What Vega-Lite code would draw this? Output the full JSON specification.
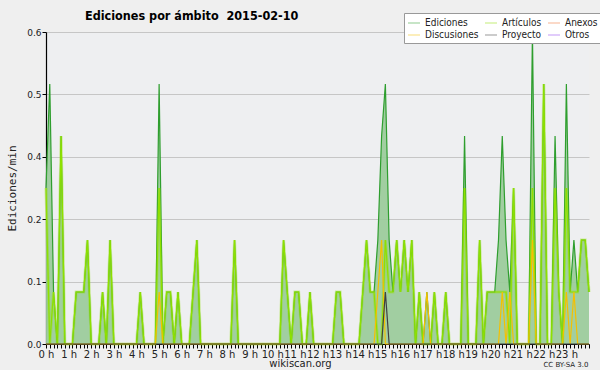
{
  "$schema": "https://vega.github.io/schema/vega-lite/v6.json",
  "width": 543,
  "height": 312,
  "autosize": "none",
  "padding": {"left": 46, "top": 32, "right": 11, "bottom": 26},
  "background": "#efefef",
  "config": {
    "view": {"stroke": null, "fill": "#eeeff1"},
    "axis": {"labelFont": "DejaVu Sans", "titleFont": "DejaVu Sans", "labelColor": "#222", "titleColor": "#222", "domainColor": "#000", "tickColor": "#000"}
  },
  "title": {
    "text": "Ediciones por ámbito \u00a02015-02-10",
    "anchor": "start",
    "frame": "group",
    "dx": 39,
    "offset": -20,
    "baseline": "alphabetic",
    "font": "DejaVu Sans Condensed, Liberation Sans Narrow, DejaVu Sans",
    "fontSize": 12.5,
    "fontWeight": "bold",
    "color": "#000"
  },
  "data": {"values": [
    {"m":0,"E":0.3,"A":0.3,"D":0,"P":0},
    {"m":10,"E":0.5,"A":0,"D":0,"P":0},
    {"m":20,"E":0.1,"A":0.1,"D":0,"P":0},
    {"m":30,"E":0,"A":0,"D":0,"P":0},
    {"m":40,"E":0.4,"A":0.4,"D":0,"P":0},
    {"m":50,"E":0,"A":0,"D":0,"P":0},
    {"m":60,"E":0,"A":0,"D":0,"P":0},
    {"m":70,"E":0,"A":0,"D":0,"P":0},
    {"m":80,"E":0.1,"A":0.1,"D":0,"P":0},
    {"m":90,"E":0.1,"A":0.1,"D":0,"P":0},
    {"m":100,"E":0.1,"A":0.1,"D":0,"P":0},
    {"m":110,"E":0.2,"A":0.2,"D":0,"P":0},
    {"m":120,"E":0,"A":0,"D":0,"P":0},
    {"m":130,"E":0,"A":0,"D":0,"P":0},
    {"m":140,"E":0,"A":0,"D":0,"P":0},
    {"m":150,"E":0.1,"A":0.1,"D":0,"P":0},
    {"m":160,"E":0,"A":0,"D":0,"P":0},
    {"m":170,"E":0.2,"A":0.2,"D":0,"P":0},
    {"m":180,"E":0,"A":0,"D":0,"P":0},
    {"m":190,"E":0,"A":0,"D":0,"P":0},
    {"m":200,"E":0,"A":0,"D":0,"P":0},
    {"m":210,"E":0,"A":0,"D":0,"P":0},
    {"m":220,"E":0,"A":0,"D":0,"P":0},
    {"m":230,"E":0,"A":0,"D":0,"P":0},
    {"m":240,"E":0,"A":0,"D":0,"P":0},
    {"m":250,"E":0.1,"A":0.1,"D":0,"P":0},
    {"m":260,"E":0,"A":0,"D":0,"P":0},
    {"m":270,"E":0,"A":0,"D":0,"P":0},
    {"m":280,"E":0,"A":0,"D":0,"P":0},
    {"m":290,"E":0,"A":0,"D":0,"P":0},
    {"m":300,"E":0.5,"A":0.3,"D":0.1,"P":0},
    {"m":310,"E":0,"A":0,"D":0,"P":0},
    {"m":320,"E":0.1,"A":0.1,"D":0,"P":0},
    {"m":330,"E":0.1,"A":0.1,"D":0,"P":0},
    {"m":340,"E":0,"A":0,"D":0,"P":0},
    {"m":350,"E":0.1,"A":0.1,"D":0,"P":0},
    {"m":360,"E":0,"A":0,"D":0,"P":0},
    {"m":370,"E":0,"A":0,"D":0,"P":0},
    {"m":380,"E":0,"A":0,"D":0,"P":0},
    {"m":390,"E":0.1,"A":0.1,"D":0,"P":0},
    {"m":400,"E":0.2,"A":0.2,"D":0,"P":0},
    {"m":410,"E":0,"A":0,"D":0,"P":0},
    {"m":420,"E":0,"A":0,"D":0,"P":0},
    {"m":430,"E":0,"A":0,"D":0,"P":0},
    {"m":440,"E":0,"A":0,"D":0,"P":0},
    {"m":450,"E":0,"A":0,"D":0,"P":0},
    {"m":460,"E":0,"A":0,"D":0,"P":0},
    {"m":470,"E":0,"A":0,"D":0,"P":0},
    {"m":480,"E":0,"A":0,"D":0,"P":0},
    {"m":490,"E":0,"A":0,"D":0,"P":0},
    {"m":500,"E":0.2,"A":0.2,"D":0,"P":0},
    {"m":510,"E":0,"A":0,"D":0,"P":0},
    {"m":520,"E":0,"A":0,"D":0,"P":0},
    {"m":530,"E":0,"A":0,"D":0,"P":0},
    {"m":540,"E":0,"A":0,"D":0,"P":0},
    {"m":550,"E":0,"A":0,"D":0,"P":0},
    {"m":560,"E":0,"A":0,"D":0,"P":0},
    {"m":570,"E":0,"A":0,"D":0,"P":0},
    {"m":580,"E":0,"A":0,"D":0,"P":0},
    {"m":590,"E":0,"A":0,"D":0,"P":0},
    {"m":600,"E":0,"A":0,"D":0,"P":0},
    {"m":610,"E":0,"A":0,"D":0,"P":0},
    {"m":620,"E":0,"A":0,"D":0,"P":0},
    {"m":630,"E":0.2,"A":0.2,"D":0,"P":0},
    {"m":640,"E":0.1,"A":0.1,"D":0,"P":0},
    {"m":650,"E":0,"A":0,"D":0,"P":0},
    {"m":660,"E":0.1,"A":0.1,"D":0,"P":0},
    {"m":670,"E":0.1,"A":0.1,"D":0,"P":0},
    {"m":680,"E":0,"A":0,"D":0,"P":0},
    {"m":690,"E":0,"A":0,"D":0,"P":0},
    {"m":700,"E":0.1,"A":0.1,"D":0,"P":0},
    {"m":710,"E":0,"A":0,"D":0,"P":0},
    {"m":720,"E":0,"A":0,"D":0,"P":0},
    {"m":730,"E":0,"A":0,"D":0,"P":0},
    {"m":740,"E":0,"A":0,"D":0,"P":0},
    {"m":750,"E":0,"A":0,"D":0,"P":0},
    {"m":760,"E":0,"A":0,"D":0,"P":0},
    {"m":770,"E":0.1,"A":0.1,"D":0,"P":0},
    {"m":780,"E":0.1,"A":0.1,"D":0,"P":0},
    {"m":790,"E":0,"A":0,"D":0,"P":0},
    {"m":800,"E":0,"A":0,"D":0,"P":0},
    {"m":810,"E":0,"A":0,"D":0,"P":0},
    {"m":820,"E":0,"A":0,"D":0,"P":0},
    {"m":830,"E":0,"A":0,"D":0,"P":0},
    {"m":840,"E":0.1,"A":0.1,"D":0,"P":0},
    {"m":850,"E":0.2,"A":0.2,"D":0,"P":0},
    {"m":860,"E":0.1,"A":0.1,"D":0,"P":0},
    {"m":870,"E":0.1,"A":0.1,"D":0,"P":0},
    {"m":880,"E":0.2,"A":0,"D":0.1,"P":0},
    {"m":890,"E":0.4,"A":0,"D":0.2,"P":0},
    {"m":900,"E":0.5,"A":0.2,"D":0,"P":0.1},
    {"m":910,"E":0.2,"A":0.1,"D":0,"P":0},
    {"m":920,"E":0.1,"A":0.1,"D":0,"P":0},
    {"m":930,"E":0.2,"A":0.2,"D":0,"P":0},
    {"m":940,"E":0.1,"A":0.1,"D":0,"P":0},
    {"m":950,"E":0.2,"A":0.2,"D":0,"P":0},
    {"m":960,"E":0.1,"A":0.1,"D":0,"P":0},
    {"m":970,"E":0.2,"A":0.2,"D":0,"P":0},
    {"m":980,"E":0,"A":0,"D":0,"P":0},
    {"m":990,"E":0.1,"A":0.1,"D":0,"P":0},
    {"m":1000,"E":0,"A":0,"D":0,"P":0},
    {"m":1010,"E":0.1,"A":0,"D":0.1,"P":0},
    {"m":1020,"E":0,"A":0,"D":0,"P":0},
    {"m":1030,"E":0.1,"A":0.1,"D":0,"P":0},
    {"m":1040,"E":0,"A":0,"D":0,"P":0},
    {"m":1050,"E":0,"A":0,"D":0,"P":0},
    {"m":1060,"E":0.1,"A":0.1,"D":0,"P":0},
    {"m":1070,"E":0,"A":0,"D":0,"P":0},
    {"m":1080,"E":0,"A":0,"D":0,"P":0},
    {"m":1090,"E":0,"A":0,"D":0,"P":0},
    {"m":1100,"E":0,"A":0,"D":0,"P":0},
    {"m":1110,"E":0.4,"A":0.3,"D":0,"P":0},
    {"m":1120,"E":0,"A":0,"D":0,"P":0},
    {"m":1130,"E":0,"A":0,"D":0,"P":0},
    {"m":1140,"E":0,"A":0,"D":0,"P":0},
    {"m":1150,"E":0.2,"A":0.2,"D":0,"P":0},
    {"m":1160,"E":0,"A":0,"D":0,"P":0},
    {"m":1170,"E":0.1,"A":0.1,"D":0,"P":0},
    {"m":1180,"E":0.1,"A":0.1,"D":0,"P":0},
    {"m":1190,"E":0.1,"A":0.1,"D":0,"P":0},
    {"m":1200,"E":0.2,"A":0.1,"D":0,"P":0},
    {"m":1210,"E":0.4,"A":0.1,"D":0.1,"P":0},
    {"m":1220,"E":0.2,"A":0.1,"D":0,"P":0},
    {"m":1230,"E":0.1,"A":0,"D":0.1,"P":0},
    {"m":1240,"E":0.3,"A":0.3,"D":0,"P":0},
    {"m":1250,"E":0,"A":0,"D":0,"P":0},
    {"m":1260,"E":0,"A":0,"D":0,"P":0},
    {"m":1270,"E":0,"A":0,"D":0,"P":0},
    {"m":1280,"E":0,"A":0,"D":0,"P":0},
    {"m":1290,"E":0.6,"A":0.3,"D":0.2,"P":0},
    {"m":1300,"E":0,"A":0,"D":0,"P":0},
    {"m":1310,"E":0,"A":0,"D":0,"P":0},
    {"m":1320,"E":0.5,"A":0.5,"D":0,"P":0},
    {"m":1330,"E":0,"A":0,"D":0,"P":0},
    {"m":1340,"E":0,"A":0,"D":0,"P":0},
    {"m":1350,"E":0.4,"A":0.3,"D":0,"P":0},
    {"m":1360,"E":0.1,"A":0.1,"D":0,"P":0},
    {"m":1370,"E":0,"A":0,"D":0,"P":0},
    {"m":1380,"E":0.5,"A":0.3,"D":0.1,"P":0},
    {"m":1390,"E":0.1,"A":0.1,"D":0,"P":0},
    {"m":1400,"E":0.2,"A":0.1,"D":0.1,"P":0},
    {"m":1410,"E":0.1,"A":0.1,"D":0,"P":0},
    {"m":1420,"E":0.2,"A":0.2,"D":0,"P":0},
    {"m":1430,"E":0.2,"A":0.2,"D":0,"P":0},
    {"m":1440,"E":0.1,"A":0.1,"D":0,"P":0}
  ]},
  "resolve": {"axis": {"x": "independent"}},
  "layer": [
    {
      "mark": {"type": "area", "fill": "#9ccb9c", "opacity": 0.95},
      "encoding": {
        "x": {"field": "m", "type": "quantitative", "scale": {"domain": [0, 1440], "nice": false, "zero": false},
          "axis": {
            "orient": "bottom",
            "values": [0,10,20,30,40,50,60,70,80,90,100,110,120,130,140,150,160,170,180,190,200,210,220,230,240,250,260,270,280,290,300,310,320,330,340,350,360,370,380,390,400,410,420,430,440,450,460,470,480,490,500,510,520,530,540,550,560,570,580,590,600,610,620,630,640,650,660,670,680,690,700,710,720,730,740,750,760,770,780,790,800,810,820,830,840,850,860,870,880,890,900,910,920,930,940,950,960,970,980,990,1000,1010,1020,1030,1040,1050,1060,1070,1080,1090,1100,1110,1120,1130,1140,1150,1160,1170,1180,1190,1200,1210,1220,1230,1240,1250,1260,1270,1280,1290,1300,1310,1320,1330,1340,1350,1360,1370,1380,1390,1400,1410,1420,1430,1440],
            "labelExpr": "datum.value % 60 === 0 && datum.value < 1440 ? (datum.value / 60) + ' h' : ''",
            "labelOverlap": false,
            "labelFlush": false,
            "labelFontSize": 10,
            "labelPadding": 1,
            "tickSize": 4,
            "tickWidth": 1,
            "domainWidth": 1.2,
            "grid": false,
            "title": "wikiscan.org",
            "titleFontSize": 10,
            "titleFontWeight": "normal",
            "titleX": 254,
            "titleY": 22.5,
            "titleBaseline": "alphabetic"
          }
        },
        "y": {"field": "E", "type": "quantitative", "scale": {"domain": [0, 0.6], "nice": false, "zero": true},
          "axis": {
            "values": [0,0.03,0.06,0.09,0.12,0.15,0.18,0.21,0.24,0.27,0.3,0.33,0.36,0.39,0.42,0.45,0.48,0.51,0.54,0.57,0.6],
            "labelExpr": "indexof([0,0.12,0.24,0.36,0.48,0.6], datum.value) >= 0 ? format(datum.value, '.1f') : ''",
            "labelOverlap": false,
            "labelFontSize": 9,
            "labelPadding": 1,
            "tickSize": 4,
            "domainWidth": 1.2,
            "grid": true,
            "gridColor": "#c6c6c6",
            "gridOpacity": {"condition": {"test": "indexof([0.12,0.24,0.36,0.48,0.6], datum.value) >= 0", "value": 1}, "value": 0},
            "title": "Ediciones/min",
            "titleFont": "DejaVu Sans Mono",
            "titleFontSize": 11,
            "titleFontWeight": "normal",
            "titleX": -31,
            "titleY": 156,
            "titleBaseline": "alphabetic"
          }
        }
      }
    },
    {
      "mark": {"type": "line", "strokeWidth": 1.2},
      "encoding": {
        "x": {"field": "m", "type": "quantitative", "axis": {
          "orient": "bottom", "title": "CC BY-SA 3.0", "labels": false, "ticks": false, "domain": false, "grid": false,
          "titleFontSize": 7, "titleFontWeight": "normal", "titleX": 542, "titleY": 22.5, "titleAlign": "right", "titleBaseline": "alphabetic"
        }},
        "y": {"field": "E", "type": "quantitative"},
        "color": {"datum": "Ediciones", "type": "nominal",
          "scale": {"domain": ["Ediciones", "Artículos", "Anexos", "Discusiones", "Proyecto", "Otros"],
                    "range": ["#2e9e2e", "#8ee000", "#f07030", "#f5c000", "#404040", "#9040f0"]},
          "legend": {
            "orient": "none", "legendX": 358, "legendY": -19, "direction": "horizontal", "columns": 3,
            "title": null, "symbolType": "stroke", "symbolSize": 144, "symbolStrokeWidth": 1.5, "symbolOpacity": 0.6,
            "labelFont": "DejaVu Sans Condensed, Liberation Sans Narrow, DejaVu Sans", "labelFontSize": 10, "labelColor": "#222", "labelLimit": 0, "labelOffset": 4,
            "fillColor": "white", "strokeColor": "#999", "padding": 3, "rowPadding": 0, "columnPadding": 3
          }
        }
      }
    },
    {
      "mark": {"type": "line", "strokeWidth": 3, "opacity": 0.35},
      "encoding": {
        "x": {"field": "m", "type": "quantitative", "axis": null},
        "y": {"field": "A", "type": "quantitative"},
        "color": {"datum": "Artículos", "type": "nominal"}
      }
    },
    {
      "mark": {"type": "line", "strokeWidth": 1.2},
      "encoding": {
        "x": {"field": "m", "type": "quantitative", "axis": null},
        "y": {"field": "A", "type": "quantitative"},
        "color": {"datum": "Artículos", "type": "nominal"}
      }
    },
    {
      "mark": {"type": "line", "strokeWidth": 1.2},
      "encoding": {
        "x": {"field": "m", "type": "quantitative", "axis": null},
        "y": {"field": "D", "type": "quantitative"},
        "color": {"datum": "Discusiones", "type": "nominal"}
      }
    },
    {
      "mark": {"type": "line", "strokeWidth": 1.2},
      "encoding": {
        "x": {"field": "m", "type": "quantitative", "axis": null},
        "y": {"field": "P", "type": "quantitative"},
        "color": {"datum": "Proyecto", "type": "nominal"}
      }
    }
  ]
}
